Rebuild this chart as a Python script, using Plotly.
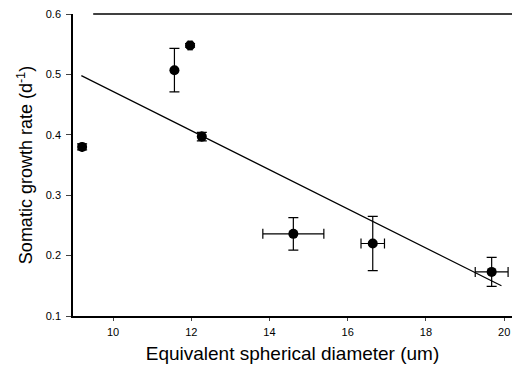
import plotly.graph_objects as go

# Data
diameter = [9.21, 11.57, 11.97, 12.27, 14.61, 16.64, 19.68]
growth = [0.380, 0.507, 0.548, 0.397, 0.236, 0.220, 0.173]
growth_err = [0.005, 0.036, 0.003, 0.007, 0.027, 0.045, 0.024]
diameter_err = [0.0, 0.0, 0.05, 0.0, 0.78, 0.30, 0.42]

fit_x = [9.19, 19.93]
fit_y = [0.498, 0.150]

x_ticks = [10, 12, 14, 16, 18, 20]
y_ticks = [0.1, 0.2, 0.3, 0.4, 0.5, 0.6]

fig = go.Figure()
fig.add_trace(go.Scatter(x=fit_x, y=fit_y, mode="lines",
                         line=dict(color="black", width=1.2), showlegend=False))
fig.add_trace(go.Scatter(
    x=diameter, y=growth, mode="markers",
    marker=dict(color="black", size=10),
    error_y=dict(type="data", array=growth_err, color="black", thickness=1.2, width=5),
    error_x=dict(type="data", array=diameter_err, color="black", thickness=1.2, width=5),
    showlegend=False))

font = "Liberation Sans, Arial, sans-serif"
fig.update_layout(
    width=512, height=369,
    margin=dict(l=73, r=0, t=14, b=53),
    paper_bgcolor="white", plot_bgcolor="white",
    font=dict(family=font, color="black"),
    xaxis=dict(range=[8.977, 20.2], tickvals=x_ticks, ticks="outside", ticklen=3,
               ticklabelstandoff=2, ticklabeloverflow="allow",
               tickfont=dict(size=11), showgrid=False, zeroline=False,
               showline=True, linecolor="black", linewidth=1.5,
               title=dict(text="Equivalent spherical diameter (um)", font=dict(size=19), standoff=10)),
    yaxis=dict(range=[0.1, 0.6], tickvals=y_ticks, tickformat=".1f", ticks="outside", ticklen=5,
               ticklabelstandoff=3, ticklabeloverflow="allow",
               tickfont=dict(size=11), showgrid=False, zeroline=False,
               showline=True, linecolor="black", linewidth=1.5,
               title=dict(text="Somatic growth rate (d<sup>-1</sup>)", font=dict(size=18), standoff=8)),
    shapes=[dict(type="line", xref="paper", yref="paper", x0=0.046, x1=1.0, y0=1, y1=1,
                 line=dict(color="black", width=1.5))],
)

# remove the default page margin so the figure sits at the window's top-left corner
fig.write_html("out.html", config={"displayModeBar": False},
               post_script="document.body.style.margin='0';document.body.style.overflow='hidden';")
